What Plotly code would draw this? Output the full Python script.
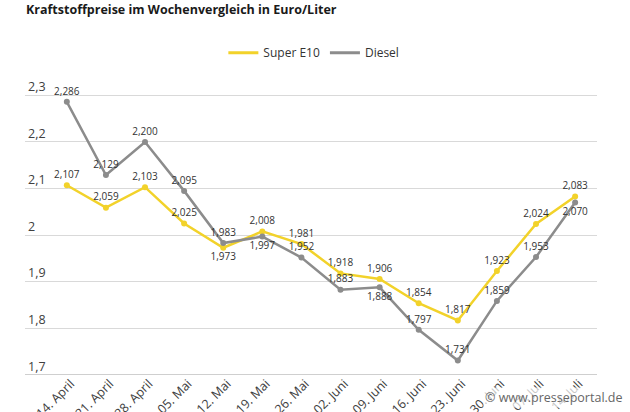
import plotly.graph_objects as go

weeks = ["14. April", "21. April", "28. April", "05. Mai", "12. Mai", "19. Mai", "26. Mai",
         "02. Juni", "09. Juni", "16. Juni", "23. Juni", "30. Juni", "07. Juli", "14. Juli"]
super_e10 = [2.107, 2.059, 2.103, 2.025, 1.973, 2.008, 1.981, 1.918, 1.906, 1.854, 1.817, 1.923, 2.024, 2.083]
diesel = [2.286, 2.129, 2.200, 2.095, 1.983, 1.997, 1.952, 1.883, 1.888, 1.797, 1.731, 1.859, 1.953, 2.070]
e10_pos = ["top center"] * 4 + ["bottom center"] + ["top center"] * 9
diesel_pos = ["top center"] * 5 + ["bottom center"] + ["top center"] * 2 + ["bottom center"] + ["top center"] * 4 + ["bottom center"]
yticks = [1.7, 1.8, 1.9, 2.0, 2.1, 2.2, 2.3]
yticklabels = ["1,7", "1,8", "1,9", "2", "2,1", "2,2", "2,3"]

YELLOW = "#F2D22A"
GRAY = "#8C8C8C"
FONT = "Open Sans"

def fmt(v):
    return f"{v:.3f}".replace(".", ",")

# plot area: x 25..597, y 86..375 (range 1.7..2.32)
PH = 375 - 86.3

fig = go.Figure()
fig.add_trace(go.Scatter(
    x=list(range(len(weeks))), y=super_e10, mode="lines+markers+text",
    line=dict(color=YELLOW, width=2.5), marker=dict(color=YELLOW, size=6),
    text=[fmt(v) for v in super_e10], textposition=e10_pos, cliponaxis=False,
    textfont=dict(size=10, color="#333333", family=FONT), showlegend=False))
fig.add_trace(go.Scatter(
    x=list(range(len(weeks))), y=diesel, mode="lines+markers+text",
    line=dict(color=GRAY, width=2.5), marker=dict(color=GRAY, size=6),
    text=[fmt(v) for v in diesel], textposition=diesel_pos, cliponaxis=False,
    textfont=dict(size=10, color="#333333", family=FONT), showlegend=False))
fig.add_trace(go.Scatter(x=[None], y=[None], mode="lines", name="Super E10",
                         line=dict(color=YELLOW, width=3)))
fig.add_trace(go.Scatter(x=[None], y=[None], mode="lines", name="Diesel",
                         line=dict(color=GRAY, width=3)))

fig.update_layout(
    width=630, height=412,
    margin=dict(l=25, r=33, t=86.3, b=37, autoexpand=False),
    paper_bgcolor="white", plot_bgcolor="white",
    font=dict(family=FONT, color="#404040"),
    title=dict(text="<b>Kraftstoffpreise im Wochenvergleich in Euro/Liter</b>",
               x=26/630, xref="container", xanchor="left",
               y=1 - 10/412, yref="container", yanchor="middle",
               font=dict(size=12.5, color="#1a1a1a", family=FONT)),
    legend=dict(orientation="h", x=0.505, xanchor="center", y=1 + (86.3 - 53) / PH, yanchor="middle",
                font=dict(size=12, color="#333333", family=FONT), itemwidth=30,
                bgcolor="rgba(0,0,0,0)"),
    xaxis=dict(tickmode="array", tickvals=list(range(len(weeks))), ticktext=weeks,
               range=[-1.07, 13.56], tickangle=-45, showgrid=False, zeroline=False,
               showline=False, ticks="", automargin=False, ticklabelstandoff=-2,
               ticklabelshift=4, tickfont=dict(size=12.5, color="#404040")),
    yaxis=dict(tickmode="array", tickvals=yticks, ticktext=yticklabels, range=[1.7, 2.32],
               ticklabelposition="inside top", ticklabeloverflow="allow",
               showgrid=True, gridcolor="#D9D9D9",
               gridwidth=1, zeroline=False, showline=False, ticks="", automargin=False,
               tickfont=dict(size=12.5, color="#404040")),
    shapes=[dict(type="line", xref="paper", yref="y", x0=0, x1=1, y0=1.7, y1=1.7,
                 line=dict(color="#BFBFBF", width=1.5))],
    annotations=[dict(text="© www.presseportal.de", xref="paper", yref="paper",
                      x=1 + 27/572, y=-22/PH, xanchor="right", yanchor="middle",
                      showarrow=False, font=dict(size=12.5, color="#666666", family=FONT),
                      bgcolor="rgba(255,255,255,0.7)")],
)

fig.write_html("out.html")
